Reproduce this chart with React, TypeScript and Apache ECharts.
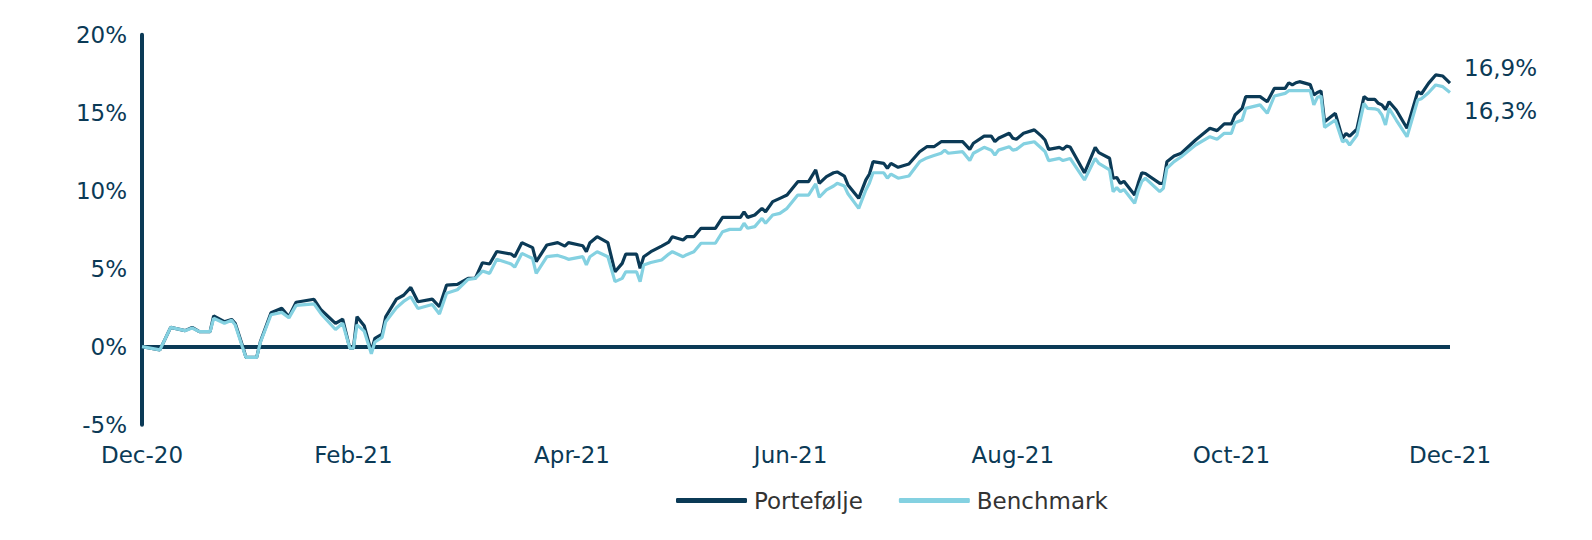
import React, { useEffect, useRef } from "react";
import * as echarts from "echarts";

const NAVY = "#0b3a56";
const LIGHT = "#84d1e1";

const seriesNames = ["Portefølje", "Benchmark"];

const dates = [
  "2020-12-31", "2021-01-05", "2021-01-08", "2021-01-12", "2021-01-14", "2021-01-16", "2021-01-19", "2021-01-20",
  "2021-01-23", "2021-01-25", "2021-01-26", "2021-01-28", "2021-01-29", "2021-02-01", "2021-02-02", "2021-02-05",
  "2021-02-08", "2021-02-10", "2021-02-12", "2021-02-17", "2021-02-19", "2021-02-23", "2021-02-25", "2021-02-27",
  "2021-02-28", "2021-03-01", "2021-03-03", "2021-03-05", "2021-03-06", "2021-03-08", "2021-03-09", "2021-03-12",
  "2021-03-14", "2021-03-16", "2021-03-18", "2021-03-22", "2021-03-24", "2021-03-26", "2021-03-29", "2021-04-01",
  "2021-04-03", "2021-04-05", "2021-04-07", "2021-04-09", "2021-04-13", "2021-04-14", "2021-04-16", "2021-04-19",
  "2021-04-20", "2021-04-23", "2021-04-26", "2021-04-28", "2021-04-29", "2021-05-03", "2021-05-04", "2021-05-05",
  "2021-05-07", "2021-05-10", "2021-05-12", "2021-05-14", "2021-05-15", "2021-05-18", "2021-05-19", "2021-05-20",
  "2021-05-22", "2021-05-25", "2021-05-27", "2021-05-28", "2021-05-31", "2021-06-01", "2021-06-03", "2021-06-05",
  "2021-06-09", "2021-06-11", "2021-06-13", "2021-06-16", "2021-06-17", "2021-06-18", "2021-06-20", "2021-06-22",
  "2021-06-23", "2021-06-25", "2021-06-27", "2021-06-29", "2021-07-02", "2021-07-05", "2021-07-07", "2021-07-08",
  "2021-07-10", "2021-07-12", "2021-07-13", "2021-07-15", "2021-07-16", "2021-07-19", "2021-07-21", "2021-07-22",
  "2021-07-23", "2021-07-26", "2021-07-27", "2021-07-28", "2021-07-30", "2021-08-02", "2021-08-05", "2021-08-07",
  "2021-08-09", "2021-08-11", "2021-08-12", "2021-08-13", "2021-08-17", "2021-08-19", "2021-08-20", "2021-08-23",
  "2021-08-25", "2021-08-26", "2021-08-27", "2021-08-30", "2021-08-31", "2021-09-01", "2021-09-03", "2021-09-06",
  "2021-09-08", "2021-09-09", "2021-09-10", "2021-09-13", "2021-09-14", "2021-09-15", "2021-09-16", "2021-09-20",
  "2021-09-23", "2021-09-24", "2021-09-27", "2021-09-28", "2021-09-29", "2021-09-30", "2021-10-01", "2021-10-04",
  "2021-10-05", "2021-10-06", "2021-10-07", "2021-10-11", "2021-10-12", "2021-10-13", "2021-10-15", "2021-10-17",
  "2021-10-21", "2021-10-25", "2021-10-27", "2021-10-29", "2021-10-31", "2021-11-01", "2021-11-03", "2021-11-04",
  "2021-11-08", "2021-11-10", "2021-11-12", "2021-11-15", "2021-11-16", "2021-11-17", "2021-11-18", "2021-11-19",
  "2021-11-22", "2021-11-23", "2021-11-24", "2021-11-25", "2021-11-26", "2021-11-29", "2021-12-01", "2021-12-02",
  "2021-12-03", "2021-12-05", "2021-12-07", "2021-12-08", "2021-12-10", "2021-12-11", "2021-12-12", "2021-12-13",
  "2021-12-14", "2021-12-16", "2021-12-19", "2021-12-22", "2021-12-23", "2021-12-25", "2021-12-27", "2021-12-29",
  "2021-12-31",
];

const portfolio = [
  0, -0.2, 1.24, 1.03, 1.24, 0.97, 0.97, 1.97,
  1.6, 1.75, 1.5, 0.1, -0.68, -0.68, 0.3, 2.18,
  2.46, 1.92, 2.85, 3.04, 2.35, 1.5, 1.76, -0.1,
  -0.1, 1.92, 1.35, -0.3, 0.54, 0.81, 1.92, 3.05,
  3.3, 3.8, 2.88, 3.05, 2.56, 3.95, 4.0, 4.38,
  4.38, 5.38, 5.3, 6.1, 5.94, 5.77, 6.67, 6.35,
  5.45, 6.52, 6.67, 6.45, 6.67, 6.47, 6.1, 6.67,
  7.05, 6.67, 4.8, 5.34, 5.94, 5.94, 5.02, 5.77,
  6.09, 6.45, 6.7, 7.05, 6.84, 7.05, 7.05, 7.59,
  7.59, 8.29, 8.29, 8.29, 8.65, 8.29, 8.44, 8.87,
  8.65, 9.3, 9.51, 9.72, 10.58, 10.58, 11.33, 10.47,
  10.9, 11.15, 11.2, 10.94, 10.37, 9.51, 10.69, 11.07,
  11.86, 11.75, 11.44, 11.75, 11.5, 11.71, 12.5, 12.82,
  12.82, 13.14, 13.14, 13.14, 13.14, 12.65, 13.04, 13.5,
  13.5, 13.14, 13.36, 13.68, 13.36, 13.3, 13.68, 13.9,
  13.5, 13.25, 12.65, 12.78, 12.65, 12.86, 12.8, 11.15,
  12.78, 12.44, 12.08, 10.8, 10.85, 10.47, 10.6, 9.72,
  10.47, 11.15, 11.1, 10.47, 10.47, 11.86, 12.22, 12.4,
  13.25, 14.0, 13.85, 14.28, 14.28, 14.85, 15.28, 16.03,
  16.03, 15.7, 16.56, 16.56, 16.92, 16.78, 16.92, 16.99,
  16.8, 16.13, 16.3, 16.4, 14.42, 14.96, 13.36, 13.67,
  13.5, 13.94, 16.03, 15.86, 15.86, 15.6, 15.5, 15.2,
  15.7, 15.17, 14.0, 16.35, 16.2, 16.88, 17.42, 17.35,
  16.9,
];

const benchmark = [
  0, -0.2, 1.24, 1.03, 1.2, 0.97, 0.97, 1.82,
  1.5, 1.7, 1.4, 0.0, -0.68, -0.68, 0.25, 2.05,
  2.2, 1.85, 2.65, 2.75, 2.1, 1.1, 1.5, -0.1,
  -0.1, 1.4, 1.0, -0.45, 0.3, 0.6, 1.6, 2.5,
  2.9, 3.2, 2.45, 2.7, 2.1, 3.42, 3.65, 4.32,
  4.38, 4.85, 4.7, 5.6, 5.3, 5.1, 5.98, 5.65,
  4.7, 5.77, 5.85, 5.7, 5.6, 5.77, 5.24, 5.77,
  6.09, 5.77, 4.17, 4.38, 4.8, 4.8, 4.17, 5.24,
  5.4, 5.56, 5.94, 6.09, 5.77, 5.9, 6.09, 6.63,
  6.63, 7.37, 7.52, 7.52, 7.91, 7.59, 7.7, 8.23,
  7.91, 8.44, 8.55, 8.87, 9.72, 9.72, 10.43, 9.58,
  10.05, 10.3, 10.47, 10.3, 9.8, 8.87, 10.05, 10.5,
  11.15, 11.15, 10.8, 11.07, 10.8, 10.94, 11.86, 12.1,
  12.25, 12.4, 12.6, 12.4, 12.5, 11.93, 12.4, 12.78,
  12.6, 12.28, 12.6, 12.82, 12.6, 12.65, 13.0, 13.14,
  12.72, 12.5, 11.93, 12.07, 11.93, 12.0, 12.07, 10.69,
  12.07, 11.75, 11.33, 9.94, 10.2, 9.94, 10.07, 9.19,
  10.0, 10.6, 10.8, 9.94, 10.15, 11.44, 11.86, 12.18,
  12.93, 13.46, 13.3, 13.68, 13.68, 14.36, 14.53, 15.28,
  15.5, 14.96, 16.07, 16.24, 16.41, 16.41, 16.41, 16.41,
  16.41, 15.5, 15.99, 16.07, 14.06, 14.53, 13.14, 13.25,
  12.93, 13.55, 15.6, 15.28, 15.25, 15.17, 14.85, 14.21,
  15.28, 14.53, 13.46, 15.81, 15.9, 16.28, 16.78, 16.67,
  16.3,
];

const tickDates = ["2020-12-31", "2021-02-28", "2021-04-30", "2021-06-30", "2021-08-31", "2021-10-31", "2021-12-31"];
const tickLabels = ["Dec-20", "Feb-21", "Apr-21", "Jun-21", "Aug-21", "Oct-21", "Dec-21"];

const FONT = "DejaVu Sans";
const DAY = 86400000;

export default function App() {
  const ref = useRef<HTMLDivElement>(null);

  useEffect(() => {
    if (!ref.current) return;
    const chart = echarts.init(ref.current, null, { renderer: "svg" });
    const t0 = Date.UTC(2020, 11, 31);
    const toDay = (d: string) => {
      const [y, m, dd] = d.split("-").map(Number);
      return Math.round((Date.UTC(y, m - 1, dd) - t0) / DAY);
    };
    const tickDays = tickDates.map(toDay);
    const fmtPct = (v: number) => v.toFixed(1).replace(".", ",") + "%";

    const option: any = {
      animation: false,
      backgroundColor: "#ffffff",
      grid: { left: 142, right: 142, top: 34.7, bottom: 115.3, containLabel: false },
      legend: {
        left: 671,
        top: 484,
        itemWidth: 71,
        itemHeight: 5,
        itemGap: 36,
        icon: "roundRect",
        data: seriesNames,
        textStyle: { fontFamily: FONT, fontSize: 23, color: "#333333", padding: [0, 0, 0, 2] },
        selectedMode: false,
      },
      xAxis: {
        type: "value",
        min: tickDays[0],
        max: tickDays[tickDays.length - 1],
        axisLine: { show: false, onZero: false },
        axisTick: { show: false },
        splitLine: { show: false },
        axisLabel: {
          customValues: tickDays,
          margin: 19,
          fontFamily: FONT,
          fontSize: 23,
          color: NAVY,
          showMinLabel: true,
          showMaxLabel: true,
          formatter: (val: number) => {
            const i = tickDays.indexOf(Math.round(val));
            return i >= 0 ? tickLabels[i] : "";
          },
        },
      },
      yAxis: {
        type: "value",
        min: -5,
        max: 20,
        interval: 5,
        axisLine: { show: true, onZero: false, lineStyle: { color: NAVY, width: 4 } },
        axisTick: { show: false },
        splitLine: { show: false },
        axisLabel: {
          margin: 15,
          fontFamily: FONT,
          fontSize: 23,
          color: NAVY,
          padding: [8, 0, 0, 0],
          formatter: (v: number) => `${v}%`,
        },
      },
      series: [
        {
          name: seriesNames[0],
          type: "line",
          data: dates.map((d, i) => [toDay(d), portfolio[i]]),
          showSymbol: false,
          symbol: "none",
          lineStyle: { color: NAVY, width: 3.2 },
          itemStyle: { color: NAVY },
          z: 3,
          endLabel: {
            show: true,
            formatter: (p: any) => fmtPct(p.value[1]),
            fontFamily: FONT,
            fontSize: 23,
            color: NAVY,
            offset: [6, -15],
          },
          markLine: {
            silent: true,
            symbol: "none",
            label: { show: false },
            lineStyle: { color: NAVY, width: 4, type: "solid" },
            data: [{ yAxis: 0 }],
            z: 1,
          },
        },
        {
          name: seriesNames[1],
          type: "line",
          data: dates.map((d, i) => [toDay(d), benchmark[i]]),
          showSymbol: false,
          symbol: "none",
          lineStyle: { color: LIGHT, width: 3.2 },
          itemStyle: { color: LIGHT },
          z: 4,
          endLabel: {
            show: true,
            formatter: (p: any) => fmtPct(p.value[1]),
            fontFamily: FONT,
            fontSize: 23,
            color: NAVY,
            offset: [6, 19],
          },
        },
      ],
    };
    chart.setOption(option);
    return () => chart.dispose();
  }, []);

  return (
    <div
      ref={ref}
      style={{ position: "absolute", left: 0, top: 0, width: 1592, height: 540, background: "#fff" }}
    />
  );
}
